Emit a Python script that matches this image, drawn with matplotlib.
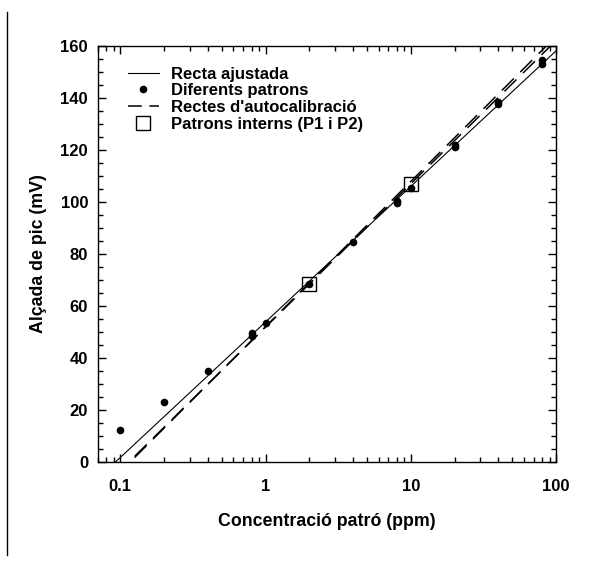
import numpy as np
import matplotlib
matplotlib.use("Agg")
import matplotlib.pyplot as plt
from matplotlib.lines import Line2D
from matplotlib.ticker import FixedLocator, LogLocator, NullFormatter, MultipleLocator

plt.rcParams['font.family'] = ['Liberation Sans', 'DejaVu Sans']
plt.rcParams['font.weight'] = 'bold'

# Data
conc = [0.1, 0.2, 0.4, 0.8, 0.8, 1, 2, 4, 8, 8, 10, 20, 20, 40, 40, 80, 80]
height = [12.5, 23, 35, 48.5, 49.5, 53.5, 68.5, 84.5, 99.5, 100.5, 105.5, 121, 122, 137.5, 138.5, 153, 154.5]
internal_conc = [2, 10]
internal_height = [68.5, 107]
fit_coef = [53.9, 52.1]            # intercept, slope vs log10(conc)
autocal_coefs = [[51.9, 55.1], [52.1, 55.8]]
x_ticks = [0.1, 1, 10, 100]
x_ticklabels = ["0.1", "1", "10", "100"]
y_ticks = [0, 20, 40, 60, 80, 100, 120, 140, 160]
legend_labels = ["Recta ajustada", "Diferents patrons", "Rectes d'autocalibració", "Patrons interns (P1 i P2)"]

fig = plt.figure(figsize=(6, 5.72), dpi=100)
ax = fig.add_axes([0.163, 0.192, 0.764, 0.728])

xx = np.logspace(np.log10(0.07), 2, 300)
a, b = fit_coef
ax.plot(xx, a + b * np.log10(xx), color='black', lw=0.8)
for a2, b2 in autocal_coefs:
    ax.plot(xx, a2 + b2 * np.log10(xx), color='black', lw=1.1, dashes=(11, 6))
ax.plot(conc, height, 'o', color='black', ms=5.5, markeredgewidth=0)
ax.plot(internal_conc, internal_height, 's', mfc='none', mec='black', ms=9.5, mew=1.0)

ax.set_xscale('log')
ax.set_xlim(0.07, 100)
ax.set_ylim(0, 160)
ax.xaxis.set_major_locator(FixedLocator(x_ticks))
ax.set_xticklabels(x_ticklabels)
ax.xaxis.set_minor_locator(LogLocator(base=10, subs=np.arange(2, 10)))
ax.xaxis.set_minor_formatter(NullFormatter())
ax.set_yticks(y_ticks)
ax.yaxis.set_minor_locator(MultipleLocator(5))
ax.tick_params(which='both', direction='in', top=True, right=True, labelsize=12, width=1)
ax.tick_params(axis='x', pad=12)
ax.tick_params(axis='y', pad=7)
ax.tick_params(which='major', length=6)
ax.tick_params(which='minor', length=3.5)
for lab in ax.get_xticklabels() + ax.get_yticklabels():
    lab.set_fontweight('bold')
for s in ax.spines.values():
    s.set_linewidth(1.0)

ax.set_xlabel("Concentració patró (ppm)", fontsize=12.8, fontweight='bold', labelpad=14)
ax.set_ylabel("Alçada de pic (mV)", fontsize=12.8, fontweight='bold', labelpad=10)

handles = [
    Line2D([], [], color='black', lw=0.8),
    Line2D([], [], color='black', marker='o', ls='none', ms=5.5, markeredgewidth=0),
    Line2D([], [], color='black', lw=1.1, dashes=(9, 5)),
    Line2D([], [], color='black', marker='s', ls='none', mfc='none', ms=9.5, mew=1.0),
]
leg = ax.legend(handles, legend_labels, loc='upper left', frameon=False,
                prop={'size': 12, 'weight': 'bold'}, handlelength=1.9,
                labelspacing=0.1, handletextpad=0.72, borderaxespad=0, borderpad=0,
                bbox_to_anchor=(0.065, 0.95))

fig.add_artist(Line2D([7/600, 7/600], [1 - 12/572, 1 - 555/572], color='black', lw=1.0, transform=fig.transFigure))

fig.savefig("out.png", dpi=100, facecolor='white')
